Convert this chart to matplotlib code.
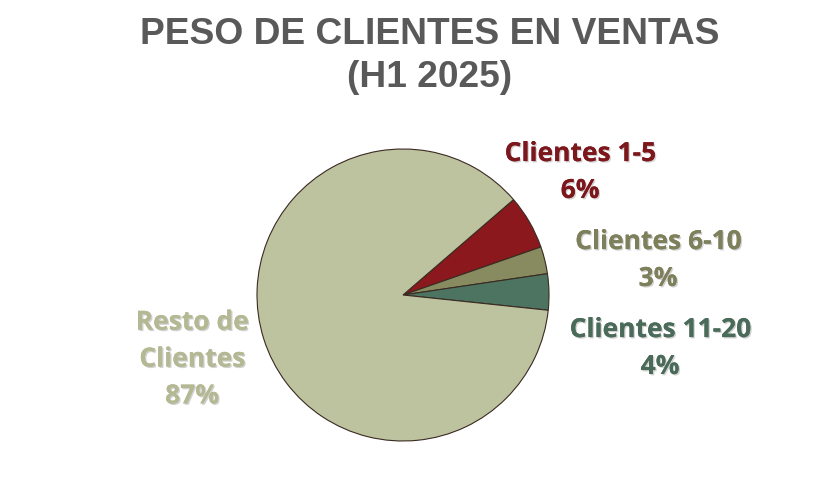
import matplotlib
matplotlib.use("Agg")
import matplotlib.pyplot as plt
import matplotlib.patheffects as pe

# Sales share by customer group
categories = ["Clientes 1-5", "Clientes 6-10", "Clientes 11-20", "Resto de\nClientes"]
shares = [6, 3, 4, 87]
slice_colors = ["#8a181d", "#878b5f", "#4d7461", "#bdc29f"]
label_colors = ["#7c171c", "#7d805a", "#4a6b5a", "#b4b994"]

W, H = 816, 482
fig = plt.figure(figsize=(W / 100, H / 100), dpi=100)
fig.patch.set_facecolor("white")

# pie centred at (403, 295) px, radius 146 px
cx, cy, r = 403, 295, 146
ax = fig.add_axes([(cx - r) / W, (H - cy - r) / H, 2 * r / W, 2 * r / H])
ax.set_aspect("equal")
ax.axis("off")

start = 40.8
ax.pie(shares, colors=slice_colors, startangle=start, counterclock=False,
       radius=1.0, wedgeprops=dict(edgecolor="#3a2a22", linewidth=0.8))
ax.set_xlim(-1, 1)
ax.set_ylim(-1, 1)


def to_data(px, py):
    return (px - cx) / r, (cy - py) / r


label_pos = [(580, 172), (658, 260), (660, 348), (192, 359)]
shadow = [pe.withSimplePatchShadow(offset=(1, -1), shadow_rgbFace="#000000", alpha=0.18),
          pe.Normal()]
for name, val, col, (px, py) in zip(categories, shares, label_colors, label_pos):
    x, y = to_data(px, py)
    ax.text(x, y, f"{name}\n{val}%", ha="center", va="center", color=col,
            fontsize=19, fontweight="bold", family=["Open Sans", "DejaVu Sans"],
            linespacing=1.47, clip_on=False, path_effects=shadow)

fig.text(430 / W, 1 - 56 / H, "PESO DE CLIENTES EN VENTAS\n(H1 2025)",
         ha="center", va="center", color="#595959", fontsize=26.7,
         fontweight="bold", family=["Liberation Sans", "DejaVu Sans"],
         linespacing=1.33)

fig.savefig("out.png", dpi=100, facecolor="white")
